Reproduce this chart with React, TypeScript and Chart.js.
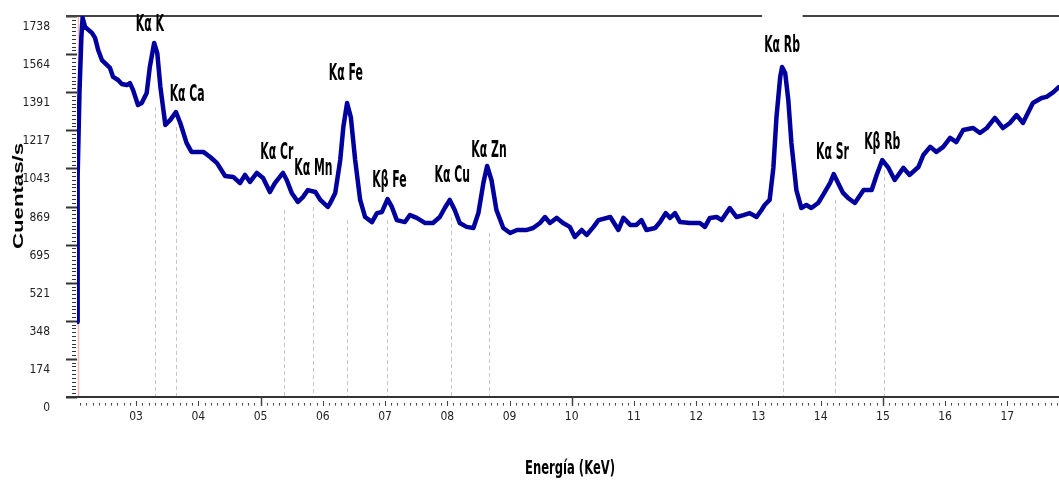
import React, { useEffect, useRef } from 'react';
import { Chart, registerables } from 'chart.js';

Chart.register(...registerables);

// ---- Data ----
const energyKeV = [
  2.05, 2.06, 2.09, 2.12, 2.14, 2.18, 2.29, 2.34, 2.39, 2.45, 2.53, 2.58, 2.63, 2.71, 2.77, 2.85, 2.90, 2.95,
  3.03, 3.09, 3.17, 3.22, 3.29, 3.34, 3.39, 3.47, 3.55, 3.64, 3.71, 3.81, 3.89, 4.08, 4.19, 4.30, 4.43, 4.56,
  4.67, 4.75, 4.83, 4.94, 5.04, 5.15, 5.23, 5.36, 5.42, 5.50, 5.60, 5.68, 5.76, 5.88, 5.96, 6.08, 6.12, 6.20,
  6.28, 6.33, 6.39, 6.45, 6.52, 6.60, 6.68, 6.79, 6.87, 6.95, 7.04, 7.11, 7.19, 7.32, 7.40, 7.51, 7.64, 7.77,
  7.88, 7.96, 8.04, 8.12, 8.20, 8.31, 8.42, 8.50, 8.58, 8.64, 8.71, 8.79, 8.90, 9.01, 9.12, 9.28, 9.38, 9.49,
  9.57, 9.65, 9.76, 9.86, 9.97, 10.05, 10.16, 10.24, 10.35, 10.43, 10.62, 10.75, 10.83, 10.94, 11.04, 11.12,
  11.20, 11.34, 11.42, 11.51, 11.58, 11.66, 11.74, 11.90, 12.06, 12.14, 12.22, 12.33, 12.41, 12.54, 12.65,
  12.76, 12.86, 12.97, 13.05, 13.10, 13.18, 13.24, 13.29, 13.35, 13.38, 13.43, 13.48, 13.53, 13.61, 13.69,
  13.77, 13.85, 13.96, 14.04, 14.15, 14.21, 14.28, 14.36, 14.44, 14.55, 14.69, 14.82, 14.90, 14.99, 15.09,
  15.19, 15.33, 15.43, 15.57, 15.65, 15.76, 15.86, 15.97, 16.08, 16.18, 16.29, 16.45, 16.56, 16.67, 16.80,
  16.93, 17.04, 17.15, 17.25, 17.41, 17.55, 17.63, 17.74, 17.83,
];

const countsPerSecond = [
  342, 1000, 1390, 1640, 1730, 1688, 1661, 1638, 1583, 1537, 1515, 1501, 1460, 1446, 1428, 1423, 1432, 1401,
  1332, 1341, 1387, 1505, 1615, 1569, 1414, 1241, 1264, 1300, 1250, 1159, 1118, 1118, 1095, 1067, 1008, 1004,
  976, 1013, 981, 1022, 999, 935, 976, 1022, 990, 931, 890, 912, 944, 935, 899, 867, 885, 931,
  1081, 1232, 1341, 1277, 1081, 899, 821, 798, 839, 844, 903, 867, 807, 798, 830, 817, 794, 794,
  821, 862, 899, 853, 794, 776, 771, 839, 976, 1054, 990, 853, 771, 748, 762, 762, 771, 794,
  821, 794, 817, 794, 776, 730, 762, 739, 776, 807, 821, 762, 817, 785, 785, 807,
  762, 771, 798, 839, 817, 839, 798, 794, 794, 776, 817, 821, 807, 862, 821,
  830, 839, 821, 853, 876, 899, 1045, 1277, 1460, 1505, 1478, 1355, 1159, 944, 862,
  876, 862, 885, 922, 976, 1017, 976, 931, 908, 885, 944, 944, 1013, 1081, 1045,
  990, 1045, 1013, 1049, 1104, 1141, 1118, 1141, 1182, 1163, 1218, 1227, 1204, 1227, 1273,
  1227, 1250, 1286, 1250, 1341, 1364, 1369, 1391, 1414,
];

const yTickValues = [0, 174, 348, 521, 695, 869, 1043, 1217, 1391, 1564, 1738];
const xTickValues = [3, 4, 5, 6, 7, 8, 9, 10, 11, 12, 13, 14, 15, 16, 17];

const peakNames = ['Kα K', 'Kα Ca', 'Kα Cr', 'Kα Mn', 'Kα Fe', 'Kβ Fe', 'Kα Cu', 'Kα Zn', 'Kα Rb', 'Kα Sr', 'Kβ Rb'];
const peakEnergy = [3.30, 3.64, 5.38, 5.84, 6.39, 7.03, 8.06, 8.67, 13.40, 14.23, 15.02];
const peakDashFrom = [1323, 1232, 853, 867, 807, 807, 821, 748, 839, 899, 1036];
const labelEnergy = [3.22, 3.82, 5.26, 5.85, 6.37, 7.07, 8.08, 8.67, 13.38, 14.19, 14.99];
const labelCounts = [1670, 1350, 1086, 1013, 1446, 959, 979, 1093, 1576, 1086, 1131];

const topLineGap = [13.06, 13.71];

const NARROW = "'Liberation Sans Narrow', 'DejaVu Sans Condensed', 'Arial Narrow', sans-serif";
const WIDE = "'Liberation Sans', Arial, sans-serif";

function drawStretched(ctx: CanvasRenderingContext2D, text: string, x: number, y: number, font: string,
  targetWidth: number, sy: number, rotate = 0) {
  ctx.save();
  ctx.font = font;
  const w = ctx.measureText(text).width || 1;
  ctx.translate(x, y);
  if (rotate) ctx.rotate(rotate);
  ctx.scale(targetWidth / w, sy);
  ctx.textAlign = 'center';
  ctx.textBaseline = 'alphabetic';
  ctx.fillText(text, 0, 0);
  ctx.restore();
}

const decorPlugin = {
  id: 'decor',
  beforeDatasetsDraw(chart: any) {
    const { ctx, chartArea: a, scales } = chart;
    const x = scales.x;
    const y = scales.y;
    ctx.save();

    // dashed peak markers
    ctx.strokeStyle = '#c6c6c6';
    ctx.lineWidth = 1;
    ctx.setLineDash([4, 3]);
    peakEnergy.forEach((e, i) => {
      const px = Math.round(x.getPixelForValue(e)) + 0.5;
      ctx.beginPath();
      ctx.moveTo(px, y.getPixelForValue(peakDashFrom[i]));
      ctx.lineTo(px, a.bottom);
      ctx.stroke();
    });
    ctx.setLineDash([]);

    // faint pink y-axis line
    ctx.strokeStyle = '#f3b9b9';
    ctx.lineWidth = 1.5;
    ctx.beginPath();
    ctx.moveTo(a.left + 1.5, a.top);
    ctx.lineTo(a.left + 1.5, a.bottom);
    ctx.stroke();

    // y ticks (major + minor)
    ctx.strokeStyle = '#333';
    for (let i = 0; i < yTickValues.length; i++) {
      const py = Math.round(y.getPixelForValue(yTickValues[i])) + 0.5;
      ctx.lineWidth = 2;
      ctx.beginPath();
      ctx.moveTo(a.left - 11, py);
      ctx.lineTo(a.left, py);
      ctx.stroke();
      if (i < yTickValues.length - 1) {
        ctx.lineWidth = 1;
        for (let k = 1; k < 10; k++) {
          const v = yTickValues[i] + (yTickValues[i + 1] - yTickValues[i]) * k / 10;
          const pm = Math.round(y.getPixelForValue(v)) + 0.5;
          ctx.beginPath();
          ctx.moveTo(a.left - 5, pm);
          ctx.lineTo(a.left - 1, pm);
          ctx.stroke();
        }
      }
    }

    // x axis line
    ctx.strokeStyle = '#333';
    ctx.lineWidth = 2;
    ctx.beginPath();
    ctx.moveTo(a.left - 11, a.bottom);
    ctx.lineTo(a.right, a.bottom);
    ctx.stroke();

    // top frame line with gap
    ctx.strokeStyle = '#444';
    ctx.beginPath();
    ctx.moveTo(a.left - 11, a.top);
    ctx.lineTo(x.getPixelForValue(topLineGap[0]), a.top);
    ctx.moveTo(x.getPixelForValue(topLineGap[1]), a.top);
    ctx.lineTo(a.right, a.top);
    ctx.stroke();

    // x ticks: every 0.1 keV
    ctx.lineWidth = 1;
    ctx.strokeStyle = '#444';
    const kStart = Math.ceil(x.min * 10 + 0.5);
    const kEnd = Math.floor(x.max * 10);
    for (let k = kStart; k <= kEnd; k++) {
      const px = Math.round(x.getPixelForValue(k / 10)) + 0.5;
      ctx.beginPath();
      if (k % 50 === 0) {
        ctx.lineWidth = 1.5;
        ctx.moveTo(px, a.bottom);
        ctx.lineTo(px, a.bottom + 9);
      } else if (k % 10 === 0) {
        ctx.lineWidth = 1;
        ctx.moveTo(px, a.bottom + 4);
        ctx.lineTo(px, a.bottom + 9);
      } else {
        ctx.lineWidth = 1;
        ctx.moveTo(px, a.bottom + 6);
        ctx.lineTo(px, a.bottom + 8.5);
      }
      ctx.stroke();
    }
    ctx.restore();
  },
  afterDatasetsDraw(chart: any) {
    const { ctx, chartArea: a, scales } = chart;
    const x = scales.x;
    const y = scales.y;
    ctx.save();
    ctx.fillStyle = '#000';
    // peak annotations
    const annFont = `bold 15px ${NARROW}`;
    ctx.font = annFont;
    const ref = ctx.measureText('Kα Fe').width || 34;
    const sx = 34 / ref;
    peakNames.forEach((name, i) => {
      ctx.save();
      ctx.font = annFont;
      const w = ctx.measureText(name).width;
      ctx.restore();
      drawStretched(ctx, name, x.getPixelForValue(labelEnergy[i]), y.getPixelForValue(labelCounts[i]),
        annFont, w * sx, 1.48);
    });
    // axis titles
    drawStretched(ctx, 'Energía (KeV)', (a.left + a.right) / 2 + 2, 473.5, `bold 17px ${NARROW}`, 90, 1.15);
    drawStretched(ctx, 'Cuentas/s', 22.7, 196, `bold 14px ${WIDE}`, 106, 1, -Math.PI / 2);
    ctx.restore();
  },
};

export default function App() {
  const canvasRef = useRef<HTMLCanvasElement | null>(null);

  useEffect(() => {
    const canvas = canvasRef.current;
    if (!canvas) return;
    const points = energyKeV.map((e, i) => ({ x: e, y: countsPerSecond[i] }));
    const chart = new Chart(canvas, {
      type: 'line',
      data: {
        datasets: [
          {
            data: points,
            borderColor: '#00009e',
            borderWidth: 4.5,
            pointRadius: 0,
            tension: 0,
            fill: false,
            borderJoinStyle: 'round',
            borderCapStyle: 'round',
          },
        ],
      },
      options: {
        animation: false,
        responsive: true,
        maintainAspectRatio: false,
        layout: { padding: { top: 16, left: 0, right: 0, bottom: 0 } },
        plugins: {
          legend: { display: false },
          tooltip: { enabled: false },
          title: { display: false },
        },
        scales: {
          x: {
            type: 'linear',
            min: 2.05,
            max: 17.83,
            afterBuildTicks: (s: any) => {
              s.ticks = xTickValues.map((v) => ({ value: v }));
            },
            afterFit: (s: any) => {
              s.height = 84;
              s.paddingLeft = 0;
              s.paddingRight = 0;
            },
            grid: { display: false, drawTicks: false },
            border: { display: false },
            ticks: {
              padding: 13,
              color: '#222',
              font: { family: NARROW, size: 12 },
              maxRotation: 0,
              autoSkip: false,
              callback: (v: any) => String(v).padStart(2, '0'),
            },
          },
          y: {
            type: 'linear',
            min: 0,
            max: 1738,
            afterBuildTicks: (s: any) => {
              s.ticks = yTickValues.map((v) => ({ value: v }));
            },
            afterFit: (s: any) => {
              s.width = 77;
              s.paddingTop = 0;
              s.paddingBottom = 0;
            },
            grid: { display: false, drawTicks: false },
            border: { display: false },
            ticks: {
              padding: 27,
              labelOffset: 11,
              color: '#222',
              font: { family: NARROW, size: 12 },
              autoSkip: false,
              callback: (v: any) => String(v),
            },
          },
        },
      } as any,
      plugins: [decorPlugin],
    });
    return () => chart.destroy();
  }, []);

  return (
    <div style={{ position: 'fixed', left: 0, top: 0, width: 1059, height: 481, background: '#fff' }}>
      <canvas ref={canvasRef} />
    </div>
  );
}
